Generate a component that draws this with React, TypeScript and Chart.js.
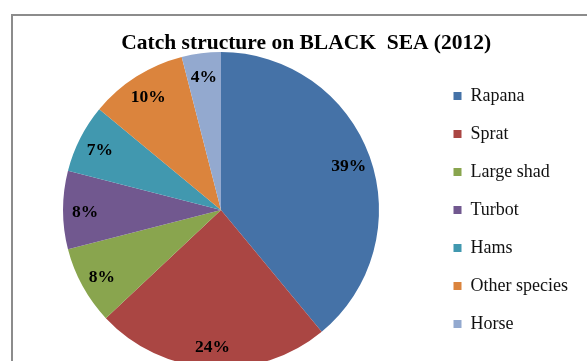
import React, { useEffect, useRef } from 'react';
import { Chart, registerables, layouts } from 'chart.js';

Chart.register(...registerables);

const TITLE = 'Catch structure on BLACK  SEA (2012)';
const species = ['Rapana', 'Sprat', 'Large shad', 'Turbot', 'Hams', 'Other species', 'Horse'];
const shares = [39, 24, 8, 8, 7, 10, 4];
const colors = ['#4572A7', '#AA4643', '#89A54E', '#71588F', '#4198AF', '#DB843D', '#93A9CF'];

const CANVAS_W = 604;
const CANVAS_H = 368;
const LABEL_RADIUS = 0.86;
const LEGEND_BAND = 170.5; // legend plus the hidden right part of the chart frame
const SERIF = "'Liberation Serif', 'Times New Roman', serif";

const percentLabels = {
  id: 'percentLabels',
  afterDatasetsDraw(chart: any) {
    const ctx = chart.ctx;
    const meta = chart.getDatasetMeta(0);
    ctx.save();
    ctx.font = `bold 17.5px ${SERIF}`;
    ctx.fillStyle = '#000';
    ctx.textAlign = 'center';
    ctx.textBaseline = 'middle';
    meta.data.forEach((arc: any, i: number) => {
      const p = arc.getProps(['x', 'y', 'startAngle', 'endAngle', 'outerRadius'], true);
      const mid = (p.startAngle + p.endAngle) / 2;
      const r = p.outerRadius * LABEL_RADIUS;
      ctx.fillText(`${shares[i]}%`, p.x + Math.cos(mid) * r, p.y + Math.sin(mid) * r + 2);
    });
    ctx.restore();
  },
};

const frameSpacer = {
  id: 'frameSpacer',
  beforeInit(chart: any) {
    const box: any = {
      position: 'right',
      weight: 1100,
      fullSize: false,
      options: { display: false },
      left: 0, top: 0, right: 0, bottom: 0, width: 0, height: 0,
      isHorizontal() { return false; },
      update(_maxWidth: number, maxHeight: number) {
        const lw = chart.legend ? chart.legend.width : 0;
        this.width = Math.max(0, LEGEND_BAND - lw);
        this.height = maxHeight;
      },
      draw() {},
    };
    chart.$frameSpacer = box;
    layouts.addBox(chart, box);
  },
  afterDestroy(chart: any) {
    if (chart.$frameSpacer) layouts.removeBox(chart, chart.$frameSpacer);
  },
};

export default function App() {
  const ref = useRef<HTMLCanvasElement | null>(null);

  useEffect(() => {
    if (!ref.current) return;
    const chart = new Chart(ref.current, {
      type: 'pie',
      data: {
        labels: species,
        datasets: [
          {
            data: shares,
            backgroundColor: colors,
            borderWidth: 0,
            hoverOffset: 0,
            offset: 0,
          },
        ],
      },
      options: {
        responsive: false,
        animation: false,
        devicePixelRatio: 1,
        layout: { padding: { left: 8.5, top: 0, right: 0, bottom: 0 } },
        plugins: {
          title: {
            display: true,
            text: TITLE,
            color: '#000',
            font: { family: SERIF, size: 21.5, weight: 'bold', lineHeight: 0.75 },
            padding: { top: 35.5, bottom: 0.4 },
          },
          legend: {
            position: 'right',
            align: 'center',
            fullSize: false,
            labels: {
              boxWidth: 8,
              boxHeight: 8,
              padding: 20,
              color: '#111',
              font: { family: SERIF, size: 18 },
            },
          },
          tooltip: { enabled: false },
        },
      } as any,
      plugins: [frameSpacer as any, percentLabels as any],
    });
    return () => chart.destroy();
  }, []);

  return (
    <div
      style={{
        position: 'fixed',
        left: 0,
        top: 0,
        width: 587,
        height: 361,
        overflow: 'hidden',
        background: '#fff',
      }}
    >
      <div
        style={{
          position: 'absolute',
          left: 11,
          top: 14,
          width: 800,
          height: 600,
          borderLeft: '2px solid #8c8c8c',
          borderTop: '2px solid #8c8c8c',
        }}
      />
      <canvas
        ref={ref}
        width={CANVAS_W}
        height={CANVAS_H}
        style={{ position: 'absolute', left: 0, top: 0, width: CANVAS_W, height: CANVAS_H }}
      />
    </div>
  );
}
